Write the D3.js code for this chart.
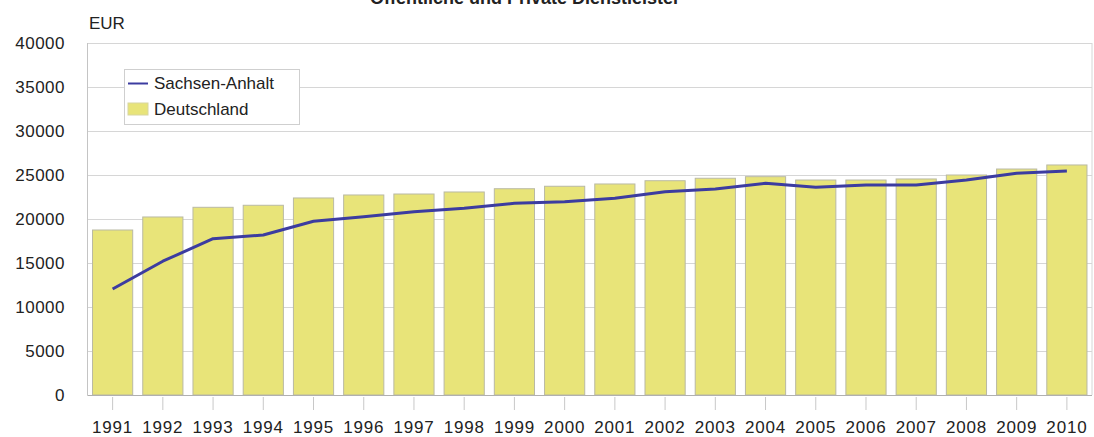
<!DOCTYPE html>
<html>
<head>
<meta charset="utf-8">
<style>
  body { margin: 0; background: #fff; }
  svg text { font-family: "Liberation Sans", Arial, sans-serif; fill: #222; }
  .title { font-weight: bold; font-size: 18px; }
</style>
<script src="https://d3js.org/d3.v7.min.js"></script>
</head>
<body>
<svg width="1094" height="437"></svg>
<script>
// data
var years = ["1991","1992","1993","1994","1995","1996","1997","1998","1999","2000",
             "2001","2002","2003","2004","2005","2006","2007","2008","2009","2010"];
var deutschland = [18750, 20230, 21330, 21560, 22390, 22730, 22840, 23070, 23440, 23720,
                   23980, 24350, 24630, 24810, 24430, 24430, 24550, 25000, 25680, 26140];
var sachsenAnhalt = [12050, 15200, 17760, 18180, 19740, 20260, 20830, 21220, 21780, 21970,
                     22350, 23100, 23410, 24060, 23600, 23860, 23860, 24430, 25190, 25450];
var yTicks = [0, 5000, 10000, 15000, 20000, 25000, 30000, 35000, 40000];

var svg = d3.select("svg");
var pLeft = 87.5, pRight = 1092, pTop = 43, pBottom = 395;

var x = d3.scaleBand().domain(years).range([pLeft, pRight]).paddingInner(0.2).paddingOuter(0.1);
var y = d3.scaleLinear().domain([0, 40000]).range([pBottom, pTop]);

// title (mostly cut off at top of picture)
svg.append("text")
    .attr("class", "title")
    .attr("x", 525).attr("y", 4)
    .attr("text-anchor", "middle")
    .text("Öffentliche und Private Dienstleister");

// gridlines
svg.append("g").selectAll("line")
    .data(yTicks).enter().append("line")
    .attr("x1", pLeft).attr("x2", pRight)
    .attr("y1", function(d) { return y(d) + 0.5; })
    .attr("y2", function(d) { return y(d) + 0.5; })
    .attr("stroke", "#d6d6d6");

// plot frame sides
svg.append("line").attr("x1", pLeft).attr("x2", pLeft).attr("y1", pTop).attr("y2", pBottom)
    .attr("stroke", "#c4c4c4");
svg.append("line").attr("x1", pRight).attr("x2", pRight).attr("y1", pTop).attr("y2", pBottom)
    .attr("stroke", "#d6d6d6");

// y labels
svg.append("g").selectAll("text")
    .data(yTicks).enter().append("text")
    .attr("x", 65)
    .attr("y", function(d) { return y(d); })
    .attr("dy", "0.36em")
    .attr("text-anchor", "end")
    .style("font-size", "17px")
    .style("letter-spacing", "0.5px")
    .text(function(d) { return d; });

svg.append("text")
    .attr("x", 89).attr("y", 29)
    .style("font-size", "17px")
    .text("EUR");

// bars
svg.append("g").selectAll("rect")
    .data(deutschland).enter().append("rect")
    .attr("x", function(d, i) { return x(years[i]); })
    .attr("y", function(d) { return y(d); })
    .attr("width", x.bandwidth())
    .attr("height", function(d) { return pBottom - y(d); })
    .attr("fill", "#e8e479")
    .attr("stroke", "#b9b9a4")
    .attr("stroke-width", 1);

// x axis line
svg.append("line").attr("x1", pLeft).attr("x2", pRight)
    .attr("y1", pBottom + 0.5).attr("y2", pBottom + 0.5)
    .attr("stroke", "#b0b0b0");

// x ticks and labels
var xt = svg.append("g").selectAll("g")
    .data(years).enter().append("g")
    .attr("transform", function(d) { return "translate(" + (x(d) + x.bandwidth() / 2) + ",0)"; });
xt.append("line").attr("y1", 397).attr("y2", 410).attr("stroke", "#c8c8c8");
xt.append("text")
    .attr("y", 433)
    .attr("text-anchor", "middle")
    .style("font-size", "17px")
    .style("letter-spacing", "0.8px")
    .text(function(d) { return d; });

// line
var line = d3.line()
    .x(function(d, i) { return x(years[i]) + x.bandwidth() / 2; })
    .y(function(d) { return y(d); });
svg.append("path")
    .datum(sachsenAnhalt)
    .attr("d", line)
    .attr("fill", "none")
    .attr("stroke", "#3c3ca0")
    .attr("stroke-width", 3)
    .attr("stroke-linejoin", "round");

// legend
var lg = svg.append("g").attr("transform", "translate(124,69)");
lg.append("rect").attr("x", 0.5).attr("y", 0.5).attr("width", 175).attr("height", 55)
    .attr("fill", "#fff").attr("stroke", "#cfcfcf");
lg.append("line").attr("x1", 4).attr("x2", 24).attr("y1", 14.5).attr("y2", 14.5)
    .attr("stroke", "#3c3ca0").attr("stroke-width", 2);
lg.append("text").attr("x", 30).attr("y", 14).attr("dy", "0.36em")
    .style("font-size", "17px").text("Sachsen-Anhalt");
lg.append("rect").attr("x", 4).attr("y", 34).attr("width", 20).attr("height", 12)
    .attr("fill", "#e8e479").attr("stroke", "#d8d6a0");
lg.append("text").attr("x", 30).attr("y", 40).attr("dy", "0.36em")
    .style("font-size", "17px").text("Deutschland");
</script>
</body>
</html>
